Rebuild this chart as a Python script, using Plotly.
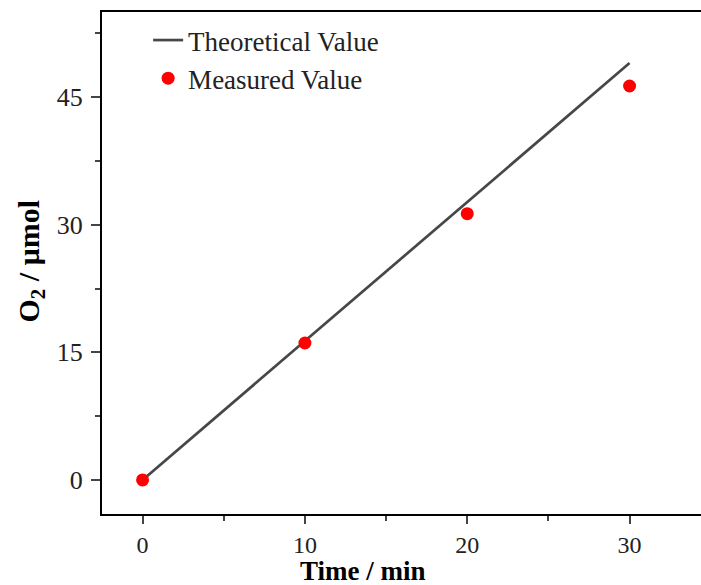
import plotly.graph_objects as go

time_min = [0, 10, 20, 30]
theoretical = [0, 16.33, 32.67, 49.0]
measured = [0, 16.1, 31.3, 46.3]

font = "Liberation Serif, Times New Roman, serif"

fig = go.Figure()
fig.add_trace(go.Scatter(x=time_min, y=theoretical, mode="lines", name="Theoretical Value",
                         line=dict(color="#474747", width=2.7)))
fig.add_trace(go.Scatter(x=time_min, y=measured, mode="markers", name="Measured Value",
                         marker=dict(color="#ff0000", size=13)))

fig.update_layout(
    width=701, height=585,
    margin=dict(l=102, r=0, t=12, b=71),
    plot_bgcolor="white", paper_bgcolor="white",
    font=dict(family=font, size=26, color="#222"),
    legend=dict(x=0.077, y=0.992, xanchor="left", yanchor="top", bgcolor="rgba(0,0,0,0)",
                font=dict(family=font, size=27, color="#222"), tracegroupgap=0),
    showlegend=True,
    annotations=[
        dict(text="<b>Time / min</b>", xref="paper", yref="paper", x=0.436, y=-0.114,
             xanchor="center", yanchor="middle", showarrow=False,
             font=dict(family=font, size=27, color="black")),
        dict(text="<b>O<sub>2</sub> / μmol</b>", xref="paper", yref="paper", x=-0.1185, y=0.503,
             xanchor="center", yanchor="middle", showarrow=False, textangle=-90,
             font=dict(family=font, size=30, color="black")),
    ],
)
fig.update_xaxes(range=[-2.5, 34.4], tickvals=[0, 10, 20, 30], ticks="outside", ticklen=8, tickwidth=1.8,
                 showline=True, linecolor="black", linewidth=2, mirror=True, showgrid=False, zeroline=False,
                 minor=dict(dtick=5, tick0=0, ticks="outside", ticklen=5, tickwidth=1.8),
                 ticklabelstandoff=0, tickfont=dict(size=24))
fig.update_yaxes(range=[-4, 55], tickvals=[0, 15, 30, 45], ticks="outside", ticklen=9, tickwidth=1.8,
                 showline=True, linecolor="black", linewidth=2, mirror=False, showgrid=False, zeroline=False,
                 minor=dict(dtick=7.5, tick0=0, ticks="outside", ticklen=5, tickwidth=1.8),
                 ticklabelstandoff=3, tickfont=dict(size=26))
fig.write_html("out.html", config={"displayModeBar": False},
               post_script="document.body.style.margin='0';document.body.style.overflow='hidden';")
